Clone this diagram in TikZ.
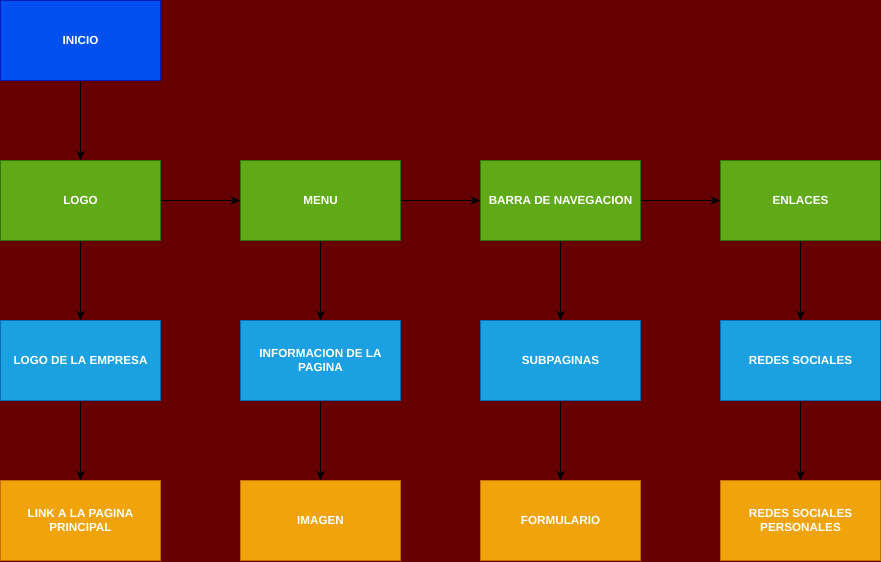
\documentclass[tikz,border=0pt]{standalone}
\usepackage{fontspec}
\setmainfont{Liberation Sans}
\usetikzlibrary{arrows.meta}
\definecolor{bg}{HTML}{660000}
\definecolor{bluef}{HTML}{0050EF}\definecolor{bluel}{HTML}{001DBC}
\definecolor{greenf}{HTML}{60A917}\definecolor{greenl}{HTML}{2D7600}
\definecolor{cyanf}{HTML}{1BA1E2}\definecolor{cyanl}{HTML}{006EAF}
\definecolor{orangef}{HTML}{F0A30A}\definecolor{orangel}{HTML}{BD7000}
\tikzset{
  boxbase/.style={rectangle, minimum width=160pt, minimum height=80pt, inner sep=0pt,
    align=center, text=white, line width=1pt,
    font=\fontsize{11.7}{14.4}\selectfont\bfseries},
  startbox/.style={boxbase, fill=bluef, draw=bluel},
  mainbox/.style={boxbase, fill=greenf, draw=greenl},
  subbox/.style={boxbase, fill=cyanf, draw=cyanl},
  leafbox/.style={boxbase, fill=orangef, draw=orangel},
  conn/.style={draw=black, line width=1pt, -{Stealth[length=9.5pt,width=8.5pt,inset=3pt]}}
}
\begin{document}
\begin{tikzpicture}[x=1pt,y=-1pt]
\fill[bg] (0,0) rectangle (881,562);
\useasboundingbox (0,0) rectangle (881,562);
\node[startbox] (inicio) at (80.5,40.5) {INICIO};
\node[mainbox] (logo) at (80.5,200.5) {LOGO};
\node[mainbox] (menu) at (320.5,200.5) {MENU};
\node[mainbox] (barra) at (560.5,200.5) {BARRA DE NAVEGACION};
\node[mainbox] (enlaces) at (800.5,200.5) {ENLACES};
\node[subbox] (logoemp) at (80.5,360.5) {LOGO DE LA EMPRESA};
\node[subbox] (info) at (320.5,360.5) {INFORMACION DE LA\\PAGINA};
\node[subbox] (subp) at (560.5,360.5) {SUBPAGINAS};
\node[subbox] (redes) at (800.5,360.5) {REDES SOCIALES};
\node[leafbox] (link) at (80.5,520.5) {LINK A LA PAGINA\\PRINCIPAL};
\node[leafbox] (imagen) at (320.5,520.5) {IMAGEN};
\node[leafbox] (form) at (560.5,520.5) {FORMULARIO};
\node[leafbox] (redesp) at (800.5,520.5) {REDES SOCIALES\\PERSONALES};
\draw[conn] (inicio) -- (logo);
\draw[conn] (logo) -- (menu);
\draw[conn] (menu) -- (barra);
\draw[conn] (barra) -- (enlaces);
\draw[conn] (logo) -- (logoemp);
\draw[conn] (menu) -- (info);
\draw[conn] (barra) -- (subp);
\draw[conn] (enlaces) -- (redes);
\draw[conn] (logoemp) -- (link);
\draw[conn] (info) -- (imagen);
\draw[conn] (subp) -- (form);
\draw[conn] (redes) -- (redesp);
\end{tikzpicture}
\end{document}
